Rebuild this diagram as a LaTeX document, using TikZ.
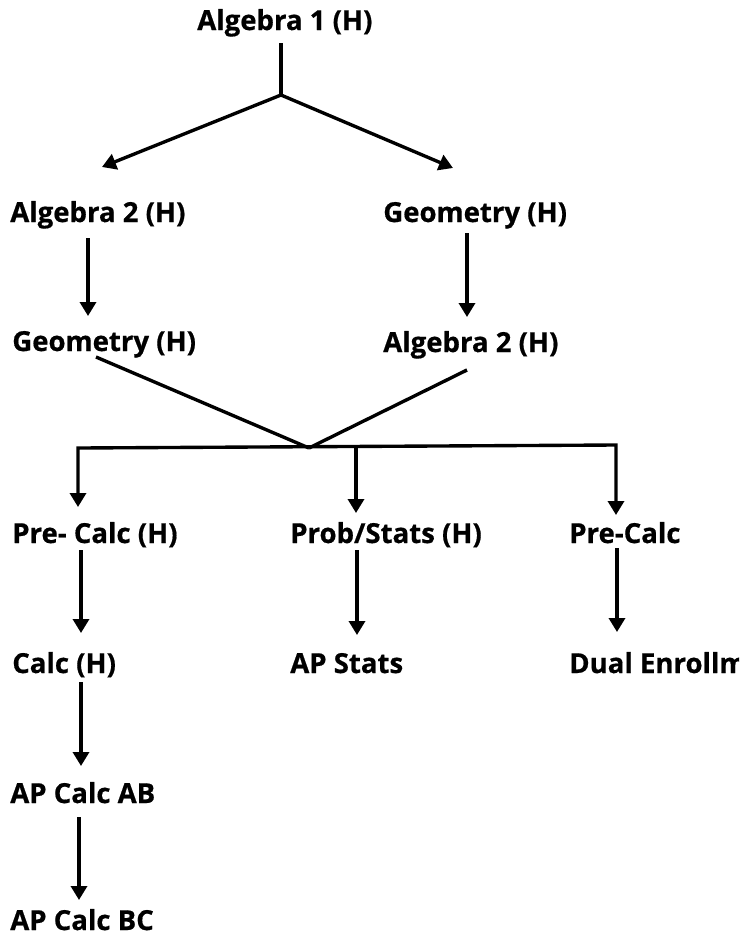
\documentclass[tikz,border=0pt]{standalone}
\usepackage{fontspec}
\setmainfont{Open Sans}[BoldFeatures={FakeBold=0.6}]
\usepackage{tikz}
\usetikzlibrary{positioning,arrows.meta,calc}

\begin{document}
\begin{tikzpicture}[
    x=0.025cm, y=-0.025cm,
    course/.style={anchor=base west, inner sep=0pt, font=\fontsize{19.6}{23}\selectfont\bfseries},
    line/.style={line width=2.4pt},
    arrow/.style={line width=2.4pt, -{Triangle[length=0.35cm, width=0.4cm]}},
    biarrow/.style={line width=2.4pt, line join=miter, {Triangle[length=0.35cm, width=0.4cm]}-{Triangle[length=0.35cm, width=0.4cm]}}
]
    \clip (0,0) rectangle (739,936);

    % Courses
    \node[course] (algone) at (197,30) {Algebra 1 (H)};
    \node[course] (algtwoL) at (10,222) {Algebra 2 (H)};
    \node[course] (geoR) at (383,222) {Geometry (H)};
    \node[course] (geoL) at (12,351) {Geometry (H)};
    \node[course] (algtwoR) at (383,352) {Algebra 2 (H)};
    \node[course] (precalcH) at (12,543) {Pre- Calc (H)};
    \node[course] (probstats) at (290,543) {Prob/Stats (H)};
    \node[course] (precalc) at (569,543) {Pre-Calc};
    \node[course] (calcH) at (12,673) {Calc (H)};
    \node[course] (apstats) at (290,673) {AP Stats};
    \node[course] (dual) at (569,673) {Dual Enrollment};
    \node[course] (apab) at (10,803) {AP Calc AB};
    \node[course] (apbc) at (10,930) {AP Calc BC};

    % Split and merge points
    \coordinate (split) at (281,95);
    \coordinate (merge) at (309,448);
    \coordinate (barL) at (78,448);
    \coordinate (barR) at (616,445);

    % First year split
    \draw[line] ($(algone.base west)+(84,13)$) -- (split);
    \draw[arrow] (split) -- ($(algtwoL.base west)+(92,-55)$);
    \draw[arrow] (split) -- ($(geoR.base west)+(70,-54)$);

    % Second year
    \draw[arrow] ($(algtwoL.base west)+(78,16)$) -- ($(geoL.base west)+(76,-35)$);
    \draw[arrow] ($(geoR.base west)+(84,11)$) -- ($(algtwoR.base west)+(84,-35)$);

    % Merge
    \draw[line] ($(geoL.base west)+(84,6)$) -- (merge);
    \draw[line] ($(algtwoR.base west)+(84,18)$) -- (merge);
    \draw[biarrow] ($(precalcH.base west)+(66,-36)$) -- (barL) -- (barR) -- ($(precalc.base west)+(47,-28)$);
    \draw[arrow] ($(probstats.base west)+(66,-96)$) -- ($(probstats.base west)+(66,-30)$);

    % Later years
    \draw[arrow] ($(precalcH.base west)+(69,7)$) -- ($(calcH.base west)+(69,-40)$);
    \draw[arrow] ($(probstats.base west)+(67,7)$) -- ($(apstats.base west)+(67,-38)$);
    \draw[arrow] ($(precalc.base west)+(48,5)$) -- ($(dual.base west)+(48,-41)$);
    \draw[arrow] ($(calcH.base west)+(69,9)$) -- ($(apab.base west)+(71,-37)$);
    \draw[arrow] ($(apab.base west)+(69,14)$) -- ($(apbc.base west)+(69,-30)$);
\end{tikzpicture}
\end{document}
